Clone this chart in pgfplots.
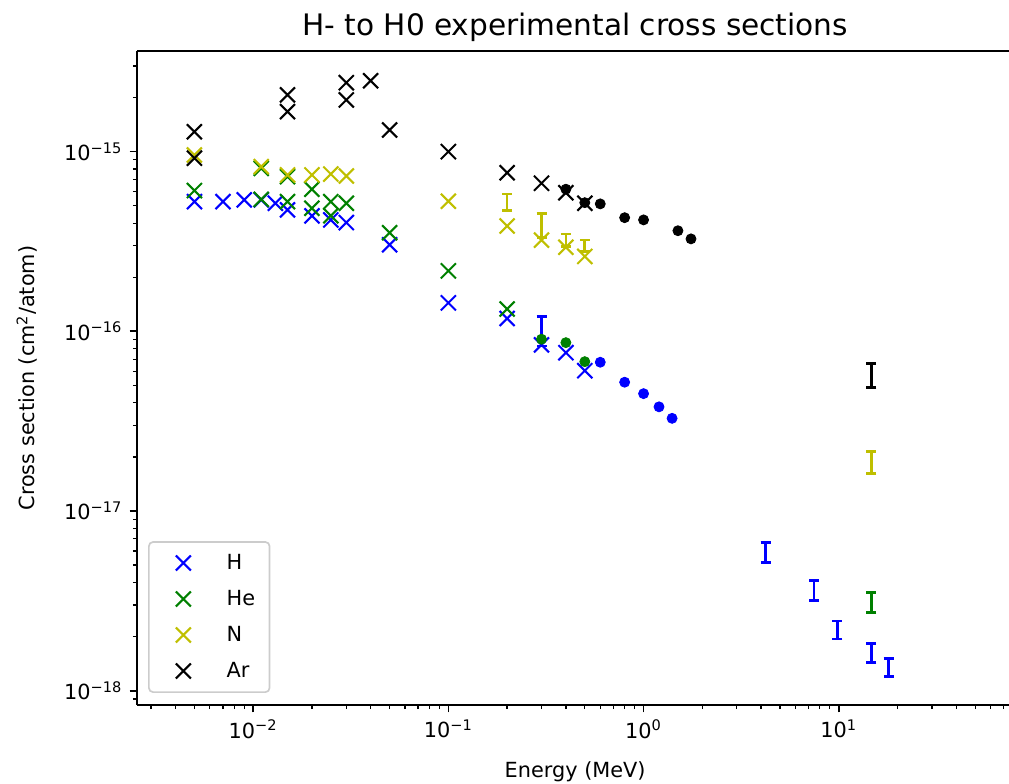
\documentclass[border=0pt]{standalone}
\usepackage{fontspec}
\setmainfont{DejaVu Sans}
\usepackage{pgfplots}
\pgfplotsset{compat=1.18}
\definecolor{mplb}{rgb}{0,0,1}
\definecolor{mplg}{rgb}{0,0.5,0}
\definecolor{mply}{rgb}{0.75,0.75,0}
\definecolor{legedge}{rgb}{0.8,0.8,0.8}
\newcommand{\sps}[1]{10\textsuperscript{#1}}
\begin{document}
\begin{tikzpicture}
\begin{axis}[
  at={(0pt,0pt)}, anchor=south west,
  scale only axis,
  width=418.56pt, height=313.92pt,
  xmode=log, ymode=log,
  xmin=0.00254, xmax=74.5,
  ymin=8.32e-19, ymax=3.63e-15,
  axis x line*=box, axis y line*=left,
  tick pos=left,
  tick align=outside,
  major tick length=3.5pt, minor tick length=2pt,
  every major tick/.style={line width=0.8pt, black},
  every minor tick/.style={line width=0.6pt, black},
  axis line style={line width=0.8pt, black},
  xtick={0.01,0.1,1,10},
  xticklabels={\sps{−2},\sps{−1},\sps{0},\sps{1}},
  minor xtick={0.003,0.004,0.005,0.006,0.007,0.008,0.009,0.02,0.03,0.04,0.05,0.06,0.07,0.08,0.09,0.2,0.3,0.4,0.5,0.6,0.7,0.8,0.9,2,3,4,5,6,7,8,9,20,30,40,50,60,70},
  ytick={1e-18,1e-17,1e-16,1e-15},
  yticklabels={\sps{−18},\sps{−17},\sps{−16},\sps{−15}},
  minor ytick={9e-19,2e-18,3e-18,4e-18,5e-18,6e-18,7e-18,8e-18,9e-18,2e-17,3e-17,4e-17,5e-17,6e-17,7e-17,8e-17,9e-17,2e-16,3e-16,4e-16,5e-16,6e-16,7e-16,8e-16,9e-16,2e-15,3e-15},
  every axis title shift=0pt,
  title={H- to H0 experimental cross sections},
  title style={font=\fontsize{14.2}{16}\selectfont, at={(axis description cs:0.5025,1.0235)}, anchor=base},
  xlabel={Energy (MeV)},
  xlabel style={at={(axis description cs:0.5025,-0.111)}, anchor=base},
  ylabel={Cross section (cm\textsuperscript{2}/atom)},
  ylabel style={at={(axis description cs:-0.117,0.5)}, anchor=base, rotate=0},
  legend style={at={(axis description cs:0.0127,0.0185)}, anchor=south west,
    draw=legedge, line width=0.8pt, rounded corners=2pt, fill=white,
    fill opacity=0.8, text opacity=1, inner xsep=4.9pt, inner ysep=3.7pt,
    row sep=4.5pt, column sep=9pt},
  legend image code/.code={\path[draw=none,fill=none] (-11.65pt,0pt) -- (9.8pt,0pt);
    \draw[#1] plot coordinates {(0pt,0pt)};},
  legend cell align=left,
  clip=false,
]
% --- x markers ---
\addplot[only marks, mark=x, mark size=5.1pt, mplb, mark options={line width=1pt}] coordinates {
 (0.005,5.27e-16) (0.007,5.27e-16) (0.009,5.39e-16) (0.011,5.39e-16) (0.013,5.16e-16)
 (0.015,4.74e-16) (0.02,4.39e-16) (0.025,4.17e-16) (0.03,4.03e-16) (0.05,3.03e-16)
 (0.1,1.44e-16) (0.2,1.18e-16) (0.3,8.4e-17) (0.4,7.61e-17) (0.5,6.04e-17)};
\addlegendentry{H}
\addplot[only marks, mark=x, mark size=5.1pt, mplg, mark options={line width=1pt}] coordinates {
 (0.005,6.07e-16) (0.011,8.08e-16) (0.011,5.43e-16) (0.015,7.26e-16) (0.015,5.27e-16)
 (0.02,6.18e-16) (0.02,4.84e-16) (0.025,5.27e-16) (0.025,4.4e-16) (0.03,5.16e-16)
 (0.05,3.54e-16) (0.1,2.17e-16) (0.2,1.33e-16)};
\addlegendentry{He}
\addplot[only marks, mark=x, mark size=5.1pt, mply, mark options={line width=1pt}] coordinates {
 (0.005,9.58e-16) (0.011,8.25e-16) (0.015,7.42e-16) (0.02,7.42e-16) (0.025,7.5e-16)
 (0.03,7.32e-16) (0.1,5.3e-16) (0.2,3.86e-16) (0.3,3.22e-16) (0.4,2.94e-16) (0.5,2.61e-16)};
\addlegendentry{N}
\addplot[only marks, mark=x, mark size=5.1pt, black, mark options={line width=1pt}] coordinates {
 (0.005,1.29e-15) (0.005,9.2e-16) (0.015,2.07e-15) (0.015,1.67e-15) (0.03,2.42e-15)
 (0.03,1.94e-15) (0.04,2.48e-15) (0.05,1.32e-15) (0.1,1.0e-15) (0.2,7.64e-16)
 (0.3,6.67e-16) (0.4,5.91e-16) (0.5,5.16e-16)};
\addlegendentry{Ar}
% --- dots ---
\addplot[forget plot, only marks, mark=*, mark size=2.4pt, black] coordinates {
 (0.4,6.18e-16) (0.5,5.2e-16) (0.6,5.12e-16) (0.8,4.29e-16) (1.0,4.17e-16) (1.5,3.63e-16) (1.75,3.27e-16)};
\addplot[forget plot, only marks, mark=*, mark size=2.4pt, mplg] coordinates {
 (0.3,9.04e-17) (0.4,8.65e-17) (0.5,6.78e-17)};
\addplot[forget plot, only marks, mark=*, mark size=2.4pt, mplb] coordinates {
 (0.6,6.73e-17) (0.8,5.21e-17) (1.0,4.5e-17) (1.2,3.8e-17) (1.4,3.28e-17)};
% --- error bars (no markers) ---
\addplot[forget plot, draw=none, mark=none,
  error bars/.cd, y dir=both, y explicit,
  error bar style={draw=mplb, line width=1.3pt, solid},
  error mark options={draw=mplb, rotate=90, line width=1.3pt, mark size=2.4pt}] coordinates {
 (0.3,1.02e-16) +- (0,0.19e-16)
 (4.22,5.9e-18) +- (0,0.75e-18)
 (7.47,3.64e-18) +- (0,0.47e-18)
 (9.85,2.19e-18) +- (0,0.25e-18)
 (14.7,1.63e-18) +- (0,0.2e-18)
 (18.0,1.35e-18) +- (0,0.155e-18)};
\addplot[forget plot, draw=none, mark=none,
  error bars/.cd, y dir=both, y explicit,
  error bar style={draw=mplg, line width=1.3pt, solid},
  error mark options={draw=mplg, rotate=90, line width=1.3pt, mark size=2.4pt}] coordinates {
 (14.7,3.12e-18) +- (0,0.4e-18)};
\addplot[forget plot, draw=none, mark=none,
  error bars/.cd, y dir=both, y explicit,
  error bar style={draw=mply, line width=1.3pt, solid},
  error mark options={draw=mply, rotate=90, line width=1.3pt, mark size=2.4pt}] coordinates {
 (0.2,5.26e-16) +- (0,0.56e-16)
 (0.3,3.94e-16) +- (0,0.6e-16)
 (0.4,3.22e-16) +- (0,0.26e-16)
 (0.5,3.0e-16) +- (0,0.22e-16)
 (14.7,1.88e-17) +- (0,0.26e-17)};
\addplot[forget plot, draw=none, mark=none,
  error bars/.cd, y dir=both, y explicit,
  error bar style={draw=black, line width=1.3pt, solid},
  error mark options={draw=black, rotate=90, line width=1.3pt, mark size=2.4pt}] coordinates {
 (14.7,5.77e-17) +- (0,0.88e-17)};
\end{axis}
\pgfresetboundingbox
\path[use as bounding box] (-65.76pt,-37.44pt) rectangle (418.56pt,338.4pt);
\end{tikzpicture}
\end{document}
